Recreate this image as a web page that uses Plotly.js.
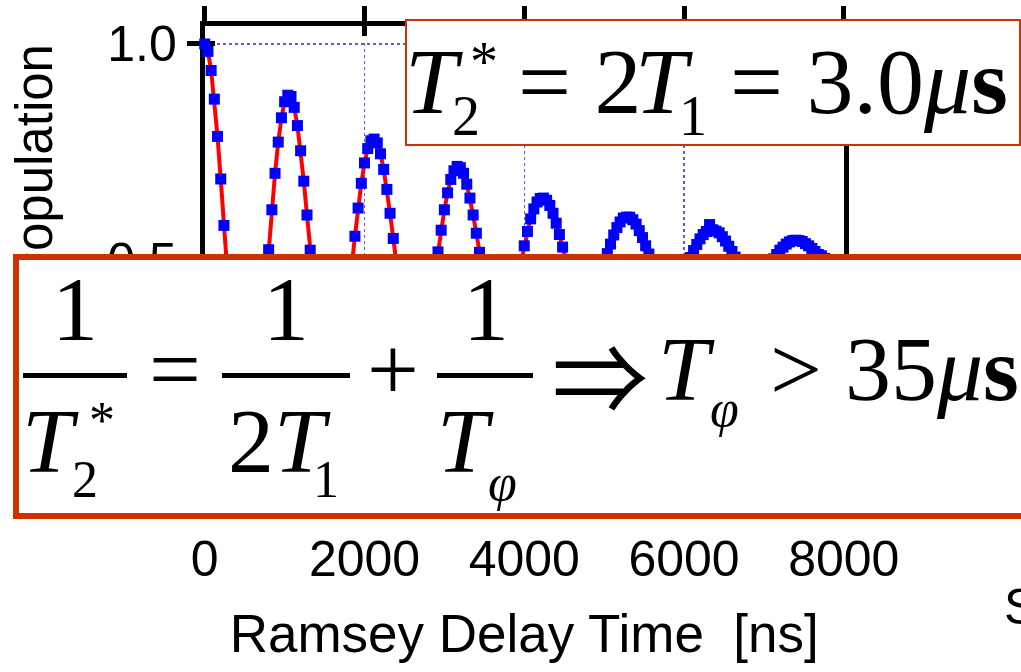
<!DOCTYPE html>
<html>
<head>
<meta charset="utf-8">
<script src="https://cdn.plot.ly/plotly-3.0.1.min.js"></script>
<style>html,body{margin:0;padding:0;background:#fff;}#chart{width:1021px;height:672px;}</style>
</head>
<body>
<div id="chart"></div>
<script>
// ---- data ----
const delayNs = [
  0,40,80,120,160,200,240,280,320,360,
  400,440,480,520,560,600,640,680,720,760,
  800,840,880,920,960,1000,1040,1080,1120,1160,
  1200,1240,1280,1320,1360,1400,1440,1480,1520,1560,
  1600,1640,1680,1720,1760,1800,1840,1880,1920,1960,
  2000,2040,2080,2120,2160,2200,2240,2280,2320,2360,
  2400,2440,2480,2520,2560,2600,2640,2680,2720,2760,
  2800,2840,2880,2920,2960,3000,3040,3080,3120,3160,
  3200,3240,3280,3320,3360,3400,3440,3480,3520,3560,
  3600,3640,3680,3720,3760,3800,3840,3880,3920,3960,
  4000,4040,4080,4120,4160,4200,4240,4280,4320,4360,
  4400,4440,4480,4520,4560,4600,4640,4680,4720,4760,
  4800,4840,4880,4920,4960,5000,5040,5080,5120,5160,
  5200,5240,5280,5320,5360,5400,5440,5480,5520,5560,
  5600,5640,5680,5720,5760,5800,5840,5880,5920,5960,
  6000,6040,6080,6120,6160,6200,6240,6280,6320,6360,
  6400,6440,6480,6520,6560,6600,6640,6680,6720,6760,
  6800,6840,6880,6920,6960,7000,7040,7080,7120,7160,
  7200,7240,7280,7320,7360,7400,7440,7480,7520,7560,
  7600,7640,7680,7720,7760
];
const population = [
  1.000,0.983,0.939,0.873,0.787,0.689,0.582,0.473,0.369,0.276,
  0.197,0.138,0.100,0.086,0.096,0.130,0.184,0.254,0.339,0.431,
  0.526,0.618,0.702,0.774,0.830,0.867,0.882,0.879,0.854,0.812,
  0.754,0.684,0.606,0.525,0.444,0.369,0.304,0.253,0.217,0.198,
  0.197,0.215,0.248,0.294,0.353,0.419,0.488,0.557,0.622,0.679,
  0.726,0.759,0.777,0.781,0.772,0.747,0.711,0.665,0.610,0.552,
  0.492,0.434,0.383,0.339,0.306,0.286,0.278,0.284,0.302,0.332,
  0.371,0.418,0.468,0.521,0.571,0.618,0.657,0.688,0.708,0.718,
  0.715,0.702,0.677,0.645,0.606,0.564,0.520,0.476,0.436,0.402,
  0.375,0.357,0.347,0.348,0.358,0.375,0.400,0.430,0.465,0.500,
  0.535,0.568,0.597,0.620,0.636,0.644,0.645,0.640,0.628,0.610,
  0.587,0.561,0.532,0.503,0.476,0.452,0.431,0.417,0.408,0.404,
  0.408,0.417,0.430,0.449,0.470,0.494,0.517,0.539,0.560,0.577,
  0.590,0.599,0.601,0.601,0.595,0.585,0.570,0.554,0.535,0.516,
  0.497,0.480,0.465,0.454,0.446,0.441,0.441,0.446,0.454,0.464,
  0.478,0.493,0.508,0.524,0.538,0.551,0.561,0.568,0.584,0.572,
  0.569,0.565,0.556,0.546,0.534,0.522,0.509,0.497,0.487,0.479,
  0.472,0.469,0.468,0.469,0.473,0.479,0.487,0.496,0.505,0.515,
  0.525,0.532,0.539,0.544,0.547,0.548,0.547,0.545,0.540,0.535,
  0.529,0.522,0.515,0.512,0.506
];
const xTickVals = [0, 2000, 4000, 6000, 8000];
const yTickVals = [0, 0.5, 1.0];
const xRange = [0, 8000];
const yRange = [0, 1.0415];
const xTitle = 'Ramsey Delay Time &nbsp;[ns]';
const yTitle = 'Excited Population';

// ---- geometry (pixels of the 1021x672 page) ----
const W = 1021, H = 672;
const fx = p => p / W;
const fy = p => 1 - p / H;
const X0 = 204.75, X1 = 843.75;      // pixel of x = 0 and x = 8000
const Y1 = 44, PPU = 434;             // pixel of y = 1.0, pixels per unit
const yPx = v => Y1 + (1 - v) * PPU;
const xDom = [fx(X0), fx(X1)];
const yDom = [fy(yPx(yRange[0])), fy(yPx(yRange[1]))];
const gridTop = 1.003;
const gridDom = [fy(yPx(0)), fy(yPx(gridTop))];

const SANS = 'Liberation Sans, Arial, sans-serif';
const SERIF = 'Liberation Serif, Times New Roman, DejaVu Serif, serif';
const ARROWF = 'Noto Sans CJK JP, DejaVu Serif, serif';
const BOXC = '#cc3300';
const GRIDC = '#5a5aff';

// ---- annotation helpers (decorations in page pixels) ----
function t(text, cx, cy, size, extra) {
  return Object.assign({text: text, xref: 'paper', yref: 'paper', x: fx(cx), y: fy(cy),
    xanchor: 'center', yanchor: 'middle', showarrow: false, borderpad: 0,
    font: {family: SERIF, size: size, color: '#000'}}, extra || {});
}
function tl(text, left, cy, size, extra) {
  return t(text, left, cy, size, Object.assign({xanchor: 'left'}, extra || {}));
}
function boxAnn(x0, y0, x1, y1, lw, color) {
  return {text: ' ', xref: 'paper', yref: 'paper', x: fx(x0), y: fy(y0), xanchor: 'left', yanchor: 'top',
    showarrow: false, width: (x1 - x0) - 2 * lw, height: (y1 - y0) - 2 * lw, borderpad: 0,
    borderwidth: lw, bordercolor: color, bgcolor: '#ffffff', font: {size: 2}};
}
function bar(x0, x1, cy, h) {
  return {text: ' ', xref: 'paper', yref: 'paper', x: fx(x0), y: fy(cy - h / 2), xanchor: 'left', yanchor: 'top',
    showarrow: false, width: x1 - x0, height: h, borderpad: 0, borderwidth: 0, bgcolor: '#000000', font: {size: 1}};
}

const annotations = [
  // y-axis title (drawn first so that the equation box hides its lower part)
  t(yTitle, 34, 255.5, 51, {textangle: -90, font: {family: SANS, size: 51, color: '#000'}}),
  boxAnn(13, 254, 1060, 519, 6, BOXC),
  boxAnn(405, 18.5, 1020.5, 145.5, 2, BOXC),
  // T2* = 2T1 = 3.0 us
  t('<i>T</i>', 434, 81, 94),
  t('2', 466, 116, 56),
  t('*', 484, 62.5, 56),
  tl('= 2', 517, 81, 94),
  t('<i>T</i>', 664, 81, 94),
  t('1', 693, 116, 56),
  tl('= 3.0<i>μ</i><b>s</b>', 729, 81, 94),
  // 1/T2* = 1/(2T1) + 1/Tphi  =>  Tphi > 35 us
  t('1', 75, 309, 92),
  t('1', 286, 309, 92),
  t('1', 486, 309, 92),
  bar(23, 127, 375, 5),
  bar(222, 350, 375, 5),
  bar(437, 533, 375, 5),
  t('=', 175, 369, 92),
  t('+', 393, 369, 92),
  t('<i>T</i>', 50.5, 441, 92),
  t('2', 85, 479.5, 52),
  t('*', 102, 420.5, 52),
  tl('2<i>T</i>', 227, 441, 92),
  t('1', 326, 479.5, 52),
  t('<i>T</i>', 465.5, 441, 92),
  t('<i>φ</i>', 502.5, 482, 52),
  t('⇒', 600, 372, 96, {font: {family: ARROWF, size: 96, color: '#000'}}),
  t('<i>T</i>', 686.5, 369, 92),
  t('<i>φ</i>', 724, 409, 52),
  tl('&gt; 35<i>μ</i><b>s</b>', 769, 369, 92),
  tl('S', 1003, 607, 50, {font: {family: SANS, size: 50, color: '#000'}})
];

const frameAxis = {showline: true, linecolor: '#000', linewidth: 5, mirror: 'ticks', ticks: 'outside',
  tickwidth: 5, tickcolor: '#000', showgrid: false, zeroline: false, layer: 'below traces', fixedrange: true,
  tickfont: {family: SANS, size: 50, color: '#000'}};

const layout = {
  width: W, height: H,
  margin: {l: 0, r: 0, t: 0, b: 0, pad: 0},
  paper_bgcolor: '#ffffff', plot_bgcolor: 'rgba(0,0,0,0)',
  showlegend: false,
  font: {family: SANS, color: '#000'},
  // dotted grid restricted to 0..1
  xaxis: {domain: xDom, range: xRange, anchor: 'y', tickvals: xTickVals, showgrid: true, gridcolor: GRIDC,
    griddash: 'dot', gridwidth: 1.3, ticks: '', showticklabels: false, showline: false, zeroline: false, fixedrange: true},
  yaxis: {domain: gridDom, range: [0, gridTop], anchor: 'x', tickvals: yTickVals, showgrid: true, gridcolor: GRIDC,
    griddash: 'dot', gridwidth: 1.3, ticks: '', showticklabels: false, showline: false, zeroline: false, fixedrange: true},
  // main framed axes
  xaxis2: Object.assign({}, frameAxis, {domain: xDom, range: xRange, anchor: 'y2', tickvals: xTickVals,
    ticklen: 15, ticklabelstandoff: 18,
    title: {text: xTitle, font: {family: SANS, size: 53, color: '#000'}, standoff: 30}}),
  yaxis2: Object.assign({}, frameAxis, {domain: yDom, range: yRange, anchor: 'x2', tickvals: yTickVals,
    tickformat: '.1f', ticklen: 13, ticklabelstandoff: 0}),
  // inside half of the crossing ticks
  xaxis3: {overlaying: 'x2', anchor: 'y2', range: xRange, tickvals: xTickVals, ticks: 'inside', ticklen: 10,
    tickwidth: 5, tickcolor: '#000', showticklabels: false, showline: true, linewidth: 5, linecolor: '#000',
    mirror: 'ticks', showgrid: false, zeroline: false, layer: 'below traces', fixedrange: true},
  yaxis3: {overlaying: 'y2', anchor: 'x2', range: yRange, tickvals: yTickVals, ticks: 'inside', ticklen: 10,
    tickwidth: 5, tickcolor: '#000', showticklabels: false, showline: true, linewidth: 5, linecolor: '#000',
    mirror: 'ticks', showgrid: false, zeroline: false, layer: 'below traces', fixedrange: true},
  annotations: annotations
};

const traces = [
  {type: 'scatter', x: [], y: [], xaxis: 'x', yaxis: 'y', mode: 'markers', hoverinfo: 'skip', showlegend: false},
  {type: 'scatter', x: [], y: [], xaxis: 'x3', yaxis: 'y3', mode: 'markers', hoverinfo: 'skip', showlegend: false},
  {type: 'scatter', name: 'Ramsey fringes', x: delayNs, y: population, xaxis: 'x2', yaxis: 'y2',
    mode: 'lines+markers', line: {color: '#ff0000', width: 4},
    marker: {symbol: 'square', size: 11, color: '#0000ff'}, cliponaxis: false, showlegend: false}
];

Plotly.newPlot('chart', traces, layout, {displayModeBar: false, staticPlot: true});
</script>
</body>
</html>
